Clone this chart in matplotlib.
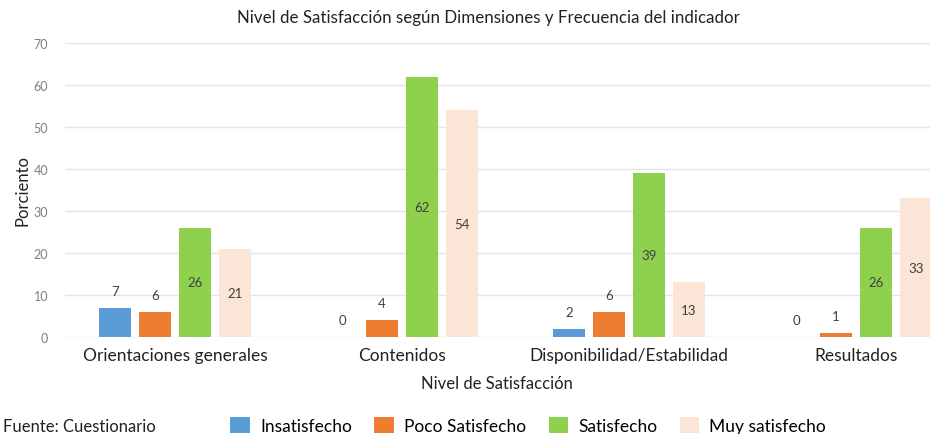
import numpy as np
import matplotlib.pyplot as plt
from matplotlib.patches import Patch

plt.rcParams['font.family'] = ['Lato', 'DejaVu Sans']

categories = ["Orientaciones generales", "Contenidos", "Disponibilidad/Estabilidad", "Resultados"]
series = ["Insatisfecho", "Poco Satisfecho", "Satisfecho", "Muy satisfecho"]
insatisfecho = [7, 0, 2, 0]
poco = [6, 4, 6, 1]
satisfecho = [26, 62, 39, 26]
muy = [21, 54, 13, 33]
colors = ["#5B9BD5", "#ED7D31", "#8FD14F", "#FBE5D6"]

values = [insatisfecho, poco, satisfecho, muy]

fig = plt.figure(figsize=(9.4, 4.35), dpi=100)
ax = fig.add_axes([0.069, 0.223, 0.92, 0.676])

x = np.arange(len(categories))
step = 0.176
width = 0.14
for i, (vals, col) in enumerate(zip(values, colors)):
    pos = x + (i - 1.5) * step
    ax.bar(pos, vals, width=width, color=col, zorder=3)
    for p, v in zip(pos, vals):
        if v >= 10:
            ax.text(p, v / 2, str(v), ha="center", va="center", fontsize=9.5, color="#404040", zorder=4)
        else:
            ax.text(p, v + 4, str(v), ha="center", va="center", fontsize=9.5, color="#404040", zorder=4)

ax.set_xlim(-0.485, 3.325)
ax.set_ylim(0, 70)
ax.set_yticks(range(0, 71, 10))
ax.yaxis.grid(True, color="#E4E4E4", linewidth=1, zorder=0)
for s in ax.spines.values():
    s.set_visible(False)
ax.tick_params(axis="y", length=0, labelsize=9, labelcolor="#7F7F7F", pad=12)
ax.tick_params(axis="x", length=0, labelsize=12.5, labelcolor="#222222", pad=7)
ax.set_xticks(x)
ax.set_xticklabels(categories)

ax.set_ylabel("Porciento", fontsize=12, color="#222222", labelpad=2)
ax.set_xlabel("Nivel de Satisfacción", fontsize=12, color="#222222", labelpad=9)
fig.text(0.52, 0.958, "Nivel de Satisfacción según Dimensiones y Frecuencia del indicador",
         ha="center", va="center", fontsize=12.2, color="#222222")

fig.text(0.003, 0.018, "Fuente: Cuestionario", ha="left", va="center", fontsize=12, color="#222222")
handles = [Patch(facecolor=c, label=s) for c, s in zip(colors, series)]
fig.legend(handles=handles, loc="center", bbox_to_anchor=(0.562, 0.02), ncol=4, frameon=False,
           fontsize=12.5, handlelength=1.1, handleheight=1.1, columnspacing=1.3, handletextpad=0.6)

fig.savefig("out.png", dpi=100)
